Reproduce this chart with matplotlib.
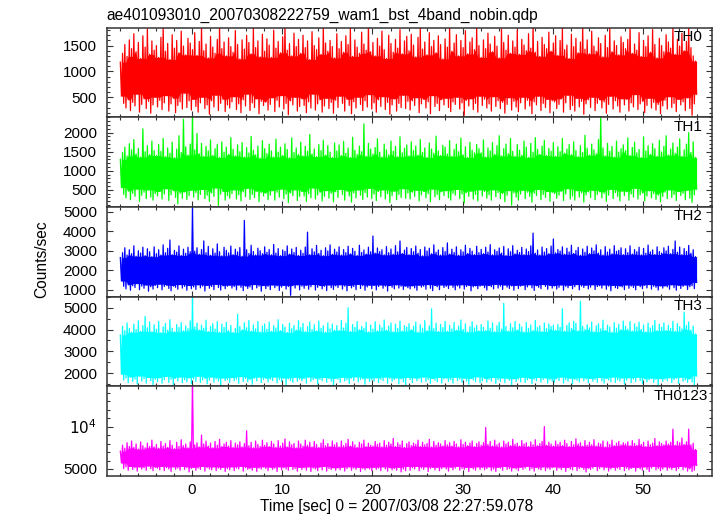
import numpy as np
import pandas as pd
import matplotlib
matplotlib.use("Agg")
import matplotlib.pyplot as plt
from matplotlib.ticker import MultipleLocator, FixedLocator, FixedFormatter

plt.rcParams['font.family'] = ['Liberation Sans', 'DejaVu Sans']

# light curve, 0.25 s bins: highest and lowest rate seen in each bin
t_start = -7.95
bin_width = 0.25

th0_hi = [1180, 1350, 1520, 1290, 1610, 1440, 1730, 1380, 1560, 1250, 1690, 1470, 1820, 1330, 1590, 1410,
          1500, 1270, 1660, 1880, 1390, 1540, 1230, 1710, 1450, 1600, 1360, 1780, 1490, 1320, 1640, 1550,
          1420, 1750, 1310, 1580, 1860, 1400, 1530, 1260, 1680, 1470, 1350, 1620, 1900, 1440, 1570, 1300,
          1650, 1480, 1370, 1790, 1520, 1240, 1610, 1430, 1700, 1560, 1340, 1850, 1460, 1590, 1280, 1720,
          1390, 1630, 1510, 1270, 1800, 1450, 1580, 1360, 1670, 1890, 1410, 1540, 1300, 1740, 1480, 1620,
          1350, 1700, 1460, 1590, 1230, 1770, 1500, 1420, 1650, 1330, 1870, 1550, 1390, 1600, 1480, 1260,
          1730, 1440, 1580, 1370, 1690, 1520, 1840, 1290, 1610, 1470, 1350, 1760, 1530, 1410, 1900, 1380,
          1560, 1300, 1640, 1490, 1780, 1420, 1250, 1700, 1540, 1370, 1620, 1450, 1810, 1340, 1590, 1680,
          1400, 1720, 1510, 1280, 1660, 1850, 1430, 1570, 1320, 1750, 1480, 1600, 1360, 1690, 1520, 1240,
          1630, 1470, 1880, 1390, 1550, 1710, 1300, 1600, 1460, 1790, 1340, 1570, 1650, 1420, 1860, 1500,
          1270, 1610, 1440, 1740, 1530, 1380, 1680, 1490, 1260, 1820, 1560, 1410, 1700, 1350, 1590, 1470,
          1800, 1330, 1620, 1510, 1400, 1730, 1450, 1890, 1370, 1580, 1290, 1660, 1520, 1440, 1760, 1390,
          1550, 1690, 1310, 1600, 1840, 1420, 1510, 1250, 1720, 1480, 1640, 1360, 1570, 1900, 1430, 1610,
          1340, 1780, 1490, 1390, 1650, 1540, 1280, 1700, 1460, 1830, 1380, 1590, 1500, 1320, 1670, 1560,
          1440, 1620, 1870, 1350, 1530, 1410, 1750, 1290, 1600, 1480, 1690, 1370, 1810, 1520, 1260, 1640,
          1500, 1380, 1710, 1570, 1450, 1850, 1330, 1620, 1490, 1740, 1400, 1580, 1880, 1460, 1300, 1200]
th0_lo = [520, 380, 290, 450, 240, 400, 330, 560, 210, 360, 470, 280, 420, 190, 350, 500,
          310, 440, 260, 390, 530, 230, 370, 480, 200, 340, 410, 270, 580, 300, 430, 250,
          460, 320, 210, 390, 500, 280, 350, 170, 430, 310, 540, 240, 380, 460, 220, 350,
          290, 410, 510, 260, 370, 200, 450, 330, 560, 240, 390, 300, 470, 180, 420, 340,
          400, 250, 360, 490, 220, 440, 310, 530, 270, 380, 160, 430, 350, 500, 230, 320,
          470, 340, 200, 410, 290, 560, 250, 370, 450, 210, 330, 480, 280, 400, 190, 440,
          300, 520, 380, 230, 460, 340, 180, 410, 290, 500, 360, 240, 430, 310, 550, 270,
          390, 210, 450, 320, 510, 260, 400, 170, 350, 470, 230, 380, 300, 540, 280, 420,
          250, 430, 340, 490, 200, 370, 460, 290, 410, 180, 530, 320, 380, 240, 450, 350,
          480, 300, 220, 410, 360, 500, 270, 390, 150, 440, 330, 470, 260, 380, 210, 520,
          340, 460, 290, 370, 230, 510, 320, 430, 280, 400, 190, 360, 490, 250, 420, 310,
          220, 390, 500, 270, 440, 330, 180, 410, 350, 520, 240, 380, 300, 460, 200, 430,
          410, 280, 360, 470, 210, 390, 540, 260, 340, 230, 480, 310, 420, 170, 370, 450,
          300, 500, 240, 380, 450, 290, 410, 190, 360, 520, 270, 430, 330, 210, 470, 350,
          460, 230, 390, 310, 550, 260, 370, 420, 200, 340, 480, 290, 400, 250, 360, 180,
          330, 440, 270, 510, 300, 380, 220, 460, 350, 410, 240, 490, 280, 150, 370, 560]

th1_hi = [1300, 1480, 1620, 1390, 1710, 1550, 1820, 1440, 1590, 1360, 2100, 1500, 1660, 1420, 1780, 1530,
          1400, 1690, 1510, 1850, 1370, 1600, 1460, 1750, 1340, 1570, 1920, 1480, 2350, 1630, 1410, 1700,
          2450, 1550, 1980, 1450, 1720, 1380, 1640, 1520, 1810, 1400, 1580, 1690, 1350, 1760, 1490, 1620,
          1430, 1870, 1560, 1390, 1680, 1500, 1740, 1360, 1610, 1470, 1900, 1540, 1420, 1650, 1330, 1790,
          1580, 1450, 1700, 1520, 1360, 1830, 1490, 1620, 1400, 1710, 1560, 1340, 1860, 1480, 1600, 1430,
          1750, 1390, 1640, 1510, 1950, 1440, 1570, 1370, 1690, 1530, 1800, 1410, 1660, 1490, 1350, 1730,
          1520, 1680, 1400, 1770, 1460, 1600, 1350, 1880, 1540, 1430, 1650, 1500, 2230, 1380, 1720, 1570,
          1440, 1610, 1840, 1490, 1360, 1700, 1550, 1420, 1780, 1510, 1640, 1370, 1890, 1470, 1590, 1680,
          1390, 1760, 1530, 1650, 1410, 1820, 1480, 1600, 1350, 1730, 1570, 1460, 1910, 1520, 1400, 1670,
          1620, 1440, 1790, 1380, 1560, 1700, 1500, 1860, 1420, 1630, 1350, 1750, 1540, 1470, 1690, 1580,
          1470, 1810, 1360, 1600, 1520, 1740, 1430, 1660, 1920, 1390, 1580, 1700, 1450, 1850, 1510, 1380,
          1690, 1540, 1410, 1780, 1620, 1350, 1720, 1490, 1870, 1560, 1430, 1650, 1800, 1400, 1590, 1510,
          1740, 1380, 1630, 1500, 1850, 1460, 1570, 1690, 1420, 1760, 1530, 1370, 1660, 1480, 1930, 1590,
          1410, 1700, 1550, 1450, 1820, 2450, 1600, 1390, 1720, 1510, 1640, 1360, 1780, 1490, 1580, 1680,
          1530, 1860, 1400, 1610, 1750, 1470, 1560, 1350, 1890, 1520, 1660, 1430, 1710, 1580, 1380, 1800,
          1490, 1640, 1920, 1410, 1570, 1730, 1460, 1620, 1840, 1380, 1550, 1700, 2000, 1480, 1760, 1350]
th1_lo = [560, 380, 290, 470, 240, 410, 330, 520, 200, 360, 440, 270, 500, 310, 230, 400,
          340, 460, 260, 390, 530, 220, 370, 480, 300, 130, 410, 280, 450, 250, 350, 490,
          310, 430, 240, 380, 510, 270, 360, 200, 420, 330, 550, 90, 390, 460, 230, 350,
          280, 400, 500, 260, 370, 210, 450, 320, 540, 250, 380, 300, 470, 190, 430, 340,
          410, 240, 360, 480, 230, 440, 310, 520, 270, 390, 170, 420, 350, 500, 220, 330,
          460, 340, 200, 400, 290, 550, 260, 370, 440, 210, 330, 480, 280, 410, 190, 450,
          300, 510, 380, 230, 470, 340, 180, 420, 290, 500, 360, 250, 430, 310, 540, 270,
          390, 220, 460, 320, 500, 260, 400, 170, 350, 470, 240, 380, 300, 530, 280, 420,
          260, 440, 330, 490, 210, 370, 460, 290, 400, 190, 520, 320, 380, 240, 450, 350,
          480, 290, 230, 410, 360, 510, 270, 390, 160, 430, 330, 470, 260, 380, 210, 500,
          340, 460, 280, 370, 230, 500, 320, 430, 270, 400, 190, 360, 480, 100, 420, 310,
          230, 390, 490, 270, 440, 330, 180, 410, 350, 510, 240, 380, 300, 460, 200, 430,
          400, 280, 360, 470, 220, 390, 530, 260, 340, 230, 480, 310, 420, 180, 370, 450,
          300, 490, 240, 380, 450, 290, 410, 200, 360, 510, 270, 430, 330, 210, 470, 350,
          450, 230, 390, 310, 540, 260, 370, 420, 210, 340, 480, 290, 400, 250, 360, 190,
          330, 440, 270, 500, 300, 380, 220, 460, 350, 410, 240, 490, 280, 170, 370, 520]

th2_hi = [2650, 2900, 3150, 2780, 3050, 2850, 3250, 2720, 3000, 2880, 3180, 2750, 3100, 2950, 2700, 3200,
          2850, 3050, 2780, 3300, 2900, 3120, 3550, 2800, 3020, 2930, 3250, 2760, 3080, 2870, 3180, 2950,
          5250, 2980, 3150, 2820, 3060, 3500, 2900, 3220, 2770, 3100, 2880, 3350, 2950, 2740, 3180, 3020,
          2890, 3240, 2800, 3080, 2940, 3160, 2720, 4550, 3050, 2860, 3280, 2960, 2780, 3130, 3000, 2850,
          3200, 2920, 3060, 2790, 3320, 2880, 3110, 2750, 3040, 2970, 3250, 2830, 3090, 2910, 3170, 2760,
          3030, 2870, 3190, 3950, 2800, 3100, 2940, 3270, 2860, 3020, 2750, 3150, 2990, 3300, 2820, 3080,
          2930, 3200, 2780, 3060, 2900, 3230, 2840, 3120, 2970, 2760, 3280, 2910, 3040, 2830, 3180, 2950,
          3750, 2880, 3140, 2960, 3050, 2790, 3210, 2900, 3090, 2820, 3260, 2940, 3500, 2860, 3030, 3170,
          2800, 3110, 2950, 3240, 2870, 3060, 2740, 3190, 2990, 3130, 2850, 3300, 2920, 3040, 2780, 3160,
          2960, 3400, 2830, 3080, 2910, 3200, 2770, 3050, 2940, 3280, 2860, 3120, 2980, 2800, 3230, 2900,
          3070, 2850, 3180, 2930, 3310, 2790, 3050, 2970, 3140, 2880, 3220, 2760, 3100, 2950, 3260, 2840,
          3020, 2910, 3170, 2800, 3090, 2960, 3250, 3900, 2870, 3040, 2780, 3190, 2930, 3110, 2850, 3240,
          3600, 2890, 3060, 2980, 3200, 2820, 3130, 2940, 3280, 2860, 3010, 3170, 2770, 3090, 2920, 3230,
          2850, 3140, 2990, 3300, 2880, 3050, 2780, 3210, 2930, 3080, 2840, 3260, 2970, 3020, 3150, 2800,
          3100, 2900, 3250, 2830, 3060, 2950, 3180, 2790, 3120, 2870, 3290, 2940, 3040, 2810, 3200, 2960,
          2880, 3150, 2990, 3230, 2850, 3070, 3500, 2920, 3190, 2800, 3110, 2960, 3270, 2870, 3050, 2700]
th2_lo = [1450, 1180, 1050, 1260, 980, 1210, 1120, 1320, 1010, 1190, 1080, 1250, 930, 1160, 1040, 1230,
          1110, 1290, 1000, 1170, 1240, 1070, 950, 1200, 1130, 1030, 1270, 1090, 1180, 980, 1220, 1060,
          1150, 1020, 1260, 1100, 1190, 940, 1230, 1080, 1170, 1010, 1280, 1120, 990, 1210, 1060, 1180,
          1240, 1090, 1170, 1000, 1250, 1130, 960, 1200, 1070, 1150, 1020, 1270, 1100, 1190, 930, 1220,
          1060, 1180, 1010, 1250, 1110, 1200, 970, 1140, 1230, 1040, 1170, 720, 1210, 1090, 1260, 1000,
          1190, 1080, 1240, 1030, 1160, 1270, 990, 1130, 1220, 1050, 1180, 960, 1250, 1110, 1020, 1200,
          1120, 1260, 1040, 1190, 950, 1230, 1100, 1170, 1010, 1280, 1070, 1210, 980, 1150, 1240, 1060,
          1230, 1000, 1170, 1250, 1080, 1190, 940, 1220, 1130, 1050, 1260, 1090, 1180, 1020, 1200, 1110,
          1050, 1210, 1100, 980, 1240, 1140, 1190, 1030, 1270, 1080, 960, 1220, 1160, 1010, 1250, 1120,
          1180, 1070, 1250, 1130, 1000, 1200, 1090, 1260, 1040, 1170, 1230, 950, 1150, 1210, 1060, 1190,
          1240, 1110, 990, 1220, 1160, 1050, 1280, 1090, 1190, 1020, 1250, 1140, 1070, 1200, 980, 1230,
          1070, 1190, 1240, 1010, 1150, 1260, 1100, 970, 1210, 1130, 1060, 1270, 1180, 1030, 1220, 1090,
          1200, 1040, 1130, 1250, 980, 1180, 1110, 1230, 1060, 1160, 1270, 1000, 1190, 1120, 1240, 1050,
          1140, 1260, 1020, 1170, 1210, 1090, 1250, 1030, 1190, 950, 1230, 1110, 1070, 1200, 1150, 1010,
          1250, 1080, 1190, 1120, 1000, 1240, 1160, 1060, 1220, 1100, 1270, 1040, 1180, 1130, 990, 1210,
          1090, 1200, 1150, 1030, 1260, 1110, 980, 1230, 1070, 1180, 1250, 1020, 1160, 1210, 1060, 1380]

th3_hi = [3750, 4150, 3950, 4300, 4050, 3880, 4250, 4000, 4400, 3920, 4180, 4600, 4080, 4350, 3900, 4220,
          4020, 4380, 3860, 4130, 4280, 3970, 4450, 4060, 3900, 4230, 4100, 4320, 3940, 4170, 4040, 4400,
          5550, 4120, 4300, 3980, 4200, 4060, 4430, 3910, 4150, 4270, 4020, 4360, 3880, 4240, 4090, 4330,
          3960, 4190, 3870, 4050, 4700, 4140, 3990, 4310, 4080, 4420, 3930, 4210, 4030, 4370, 3890, 4160,
          4260, 4010, 4340, 3920, 4180, 4070, 4450, 3950, 4230, 4110, 3870, 4300, 4040, 4190, 3980, 4410,
          4090, 4280, 3900, 4140, 4350, 4000, 4220, 3940, 4390, 4060, 4170, 3880, 4310, 4030, 4250, 3970,
          4180, 3960, 4420, 4070, 4290, 5000, 3910, 4230, 4100, 4370, 3990, 4150, 4060, 4330, 3890, 4200,
          4020, 4360, 3940, 4210, 4080, 4440, 3970, 4160, 4300, 3900, 4250, 4050, 4390, 3930, 4180, 4110,
          4270, 3990, 4150, 4340, 3880, 4220, 4060, 4410, 3950, 4170, 4950, 4040, 4290, 3910, 4240, 4090,
          4380, 3920, 4200, 4030, 4320, 3970, 4160, 4440, 4010, 4260, 3890, 4130, 4350, 4070, 4190, 3940,
          4230, 4100, 3960, 4400, 4050, 4310, 3900, 4180, 4340, 4020, 5200, 4140, 3930, 4270, 4080, 4370,
          3980, 4250, 4120, 3890, 4330, 4060, 4210, 3950, 4420, 4090, 4170, 3910, 4300, 4040, 4260, 4140,
          4200, 3970, 4230, 4100, 4950, 3920, 4190, 4310, 4050, 4380, 4280, 3940, 5300, 4150, 4010, 4220,
          4080, 4340, 3900, 4170, 4270, 4030, 4430, 3960, 4200, 4120, 3880, 4320, 4060, 4240, 3990, 4390,
          4150, 4020, 4370, 3930, 4260, 4110, 4340, 4000, 4210, 3890, 4300, 4070, 4180, 4420, 3950, 4240,
          4100, 4310, 3960, 4200, 4050, 4380, 3920, 4270, 4130, 4030, 4800, 4190, 4350, 3980, 4160, 3800]
th3_lo = [1950, 1680, 1780, 1560, 1830, 1620, 1730, 1500, 1870, 1640, 1750, 1540, 1800, 1660, 1470, 1720,
          1610, 1790, 1540, 1700, 1850, 1580, 1720, 1480, 1760, 1640, 1820, 1560, 1700, 1600, 1790, 1520,
          1740, 1620, 1860, 1570, 1690, 1770, 1510, 1680, 1820, 1590, 1730, 1640, 1440, 1780, 1660, 1710,
          1580, 1800, 1650, 1720, 1530, 1840, 1620, 1750, 1600, 1700, 1490, 1770, 1640, 1820, 1570, 1710,
          1770, 1600, 1720, 1660, 1820, 1550, 1710, 1620, 1780, 1470, 1740, 1670, 1580, 1810, 1630, 1720,
          1660, 1750, 1540, 1820, 1620, 1700, 1770, 1500, 1720, 1650, 1800, 1580, 1740, 1630, 1420, 1760,
          1720, 1580, 1810, 1640, 1700, 1520, 1770, 1660, 1830, 1600, 1710, 1740, 1490, 1780, 1620, 1700,
          1640, 1790, 1570, 1720, 1660, 1820, 1540, 1760, 1630, 1700, 1780, 1510, 1730, 1600, 1460, 1800,
          1700, 1560, 1780, 1650, 1740, 1590, 1820, 1620, 1710, 1530, 1760, 1680, 1600, 1800, 1550, 1730,
          1780, 1620, 1700, 1540, 1810, 1660, 1730, 1580, 1770, 1640, 1490, 1750, 1690, 1610, 1830, 1570,
          1650, 1760, 1590, 1720, 1640, 1800, 1530, 1700, 1620, 1780, 1560, 1740, 1670, 1480, 1750, 1610,
          1730, 1600, 1810, 1570, 1690, 1760, 1520, 1720, 1650, 1800, 1590, 1710, 1780, 1540, 1690, 1640,
          1590, 1740, 1660, 1820, 1550, 1700, 1630, 1770, 1510, 1720, 1680, 1600, 1790, 1650, 1730, 1560,
          1760, 1630, 1710, 1580, 1800, 1650, 1540, 1750, 1690, 1610, 1820, 1570, 1700, 1640, 1780, 1500,
          1680, 1790, 1560, 1730, 1620, 1810, 1660, 1520, 1740, 1600, 1700, 1770, 1580, 1720, 1450, 1750,
          1620, 1720, 1650, 1790, 1570, 1700, 1760, 1530, 1810, 1640, 1690, 1580, 1740, 1600, 1460, 1880]

th0123_hi = [7100, 7800, 7450, 8100, 7650, 8300, 7550, 7950, 7350, 8200, 7750, 7500, 8050, 7650, 8400, 7600,
             7900, 7450, 8250, 7700, 8000, 7550, 8350, 7800, 7400, 8150, 7650, 8450, 7750, 7950, 7500, 8200,
             15500, 7850, 8100, 7600, 9000, 7950, 8300, 7700, 8050, 7500, 8250, 7800, 8500, 7650, 7950, 8150,
             7700, 8350, 7550, 8050, 7850, 8200, 7600, 8000, 9500, 7750, 8150, 7500, 8300, 7900, 7650, 8400,
             7800, 8100, 7650, 8250, 7950, 7550, 8350, 7700, 8050, 8550, 7600, 8200, 7850, 8000, 7500, 8300,
             7950, 7700, 8400, 7800, 8150, 7600, 8250, 7900, 7550, 8050, 8450, 7750, 8000, 7650, 8300, 7850,
             8100, 7600, 8300, 7750, 8000, 8500, 7700, 8200, 7850, 7550, 8150, 7950, 8400, 7650, 8050, 7800,
             7700, 8250, 7900, 8050, 7600, 8350, 7800, 8150, 7950, 8600, 7650, 8100, 7850, 8300, 7550, 8000,
             8200, 7750, 8050, 7900, 8400, 7650, 8150, 7850, 8000, 8500, 7600, 8250, 7800, 8100, 7950, 7700,
             8350, 7850, 8100, 7700, 8250, 7950, 7600, 8450, 7900, 8150, 7750, 8050, 8300, 7650, 8000, 8200,
             7800, 8100, 9900, 7900, 8250, 7700, 8400, 7850, 8050, 7600, 8300, 7950, 8150, 7750, 8500, 7900,
             8050, 7700, 8350, 7950, 8100, 7650, 8200, 7850, 8450, 7750, 8000, 8250, 10000, 7800, 8150, 7950,
             7700, 8300, 7900, 8150, 7750, 8400, 8000, 7650, 8250, 7850, 8550, 7950, 8100, 7700, 8350, 7800,
             8150, 7850, 8450, 7700, 8050, 7950, 8300, 7600, 8200, 7900, 8400, 7750, 8050, 8250, 7850, 8100,
             7950, 8200, 7750, 8350, 8000, 7800, 8500, 7900, 8150, 7650, 8300, 7850, 8050, 8600, 7750, 8200,
             8000, 7850, 8300, 7950, 8150, 9700, 7800, 8250, 8100, 8650, 7900, 8200, 9700, 7850, 8050, 7300]
th0123_lo = [5700, 5050, 5250, 4850, 5300, 4950, 5150, 4750, 5250, 5000, 5150, 4850, 5350, 5050, 4800, 5200,
             5100, 4900, 5300, 4800, 5150, 5000, 4700, 5250, 4950, 5100, 4850, 5300, 4950, 5150, 4650, 5050,
             5200, 4850, 5100, 4950, 5300, 4750, 5150, 5000, 4900, 5250, 4800, 5100, 4950, 5200, 4700, 5050,
             4900, 5250, 4800, 5100, 5000, 5300, 4750, 5150, 4950, 5050, 4850, 5200, 4700, 5100, 5000, 5250,
             5050, 4800, 5200, 4950, 5100, 4700, 5250, 4900, 5150, 5000, 4850, 5300, 4950, 5050, 4750, 5200,
             4950, 5150, 4850, 5250, 4700, 5100, 5000, 4800, 5200, 4900, 5300, 4750, 5050, 4950, 5150, 4850,
             5100, 4900, 5200, 4750, 5050, 5250, 4850, 5100, 4950, 5200, 4700, 5050, 4900, 5150, 5000, 4800,
             5200, 4950, 5100, 4800, 5250, 5000, 4750, 5150, 4900, 5050, 4850, 5200, 4650, 5000, 4800, 5300,
             4850, 5150, 5000, 5300, 4800, 5100, 4950, 5250, 4700, 5050, 5200, 4900, 5150, 4800, 5050, 5250,
             5000, 4750, 5200, 4900, 5100, 5300, 4850, 5050, 4950, 5200, 4700, 5150, 5000, 4850, 5250, 4950,
             5150, 4900, 5050, 5250, 4800, 5000, 4700, 5200, 5100, 4850, 5300, 4950, 5050, 4750, 5150, 5000,
             4800, 5200, 4950, 5100, 5300, 4850, 5050, 4750, 5200, 5000, 4900, 5250, 4800, 5100, 4950, 5150,
             5250, 4850, 5100, 4950, 5200, 4700, 5150, 5000, 4900, 5300, 4800, 5050, 5200, 4950, 4650, 5100,
             4950, 5100, 5300, 4800, 5050, 5250, 4900, 5150, 4750, 5000, 5200, 4850, 5100, 4950, 5300, 4800,
             5100, 4900, 5050, 5200, 4750, 5150, 5000, 4850, 5250, 4950, 4700, 5100, 5300, 4900, 5050, 4800,
             5000, 5250, 4850, 5100, 4950, 5200, 4800, 5050, 5300, 4900, 5150, 4750, 5000, 4700, 4850, 5450]

band_names = ['TH0', 'TH1', 'TH2', 'TH3', 'TH0123']
band_colors = ['#ff0000', '#00ff00', '#0000ff', '#00ffff', '#ff00ff']
band_hi = [th0_hi, th1_hi, th2_hi, th3_hi, th0123_hi]
band_lo = [th0_lo, th1_lo, th2_lo, th3_lo, th0123_lo]
band_ylim = [(110, 1846), (53, 2403), (660, 5240), (1406, 5516), (4208, 14775)]
band_major = [500, 500, 1000, 1000, 5000]
band_minor = [100, 100, 500, 500, 1000]
label_x = [0.985, 0.985, 0.985, 0.985, 0.994]

dpi = 100
fig, axes = plt.subplots(5, 1, sharex=True, figsize=(717 / dpi, 516 / dpi), dpi=dpi)
fig.subplots_adjust(left=0.1488, right=0.9926, top=0.9463, bottom=0.0781, hspace=0)

for i, ax in enumerate(axes):
    hi = pd.Series(band_hi[i], dtype=float)
    lo = pd.Series(band_lo[i], dtype=float)
    t_hi = t_start + bin_width * np.arange(len(hi))
    t_lo = t_hi + bin_width / 2

    # the dense part of the band, where every neighbouring swing passes
    core_hi = hi.rolling(5, center=True, min_periods=1).min()
    core_lo = lo.rolling(5, center=True, min_periods=1).max()
    ax.fill_between(t_lo, core_lo, core_hi, color=band_colors[i], lw=0)

    x = np.column_stack([t_hi, t_lo]).ravel()
    y = np.column_stack([hi, lo]).ravel()
    ax.plot(x, y, color=band_colors[i], lw=0.9)

    ax.set_ylim(*band_ylim[i])
    ax.yaxis.set_major_locator(MultipleLocator(band_major[i]))
    ax.yaxis.set_minor_locator(MultipleLocator(band_minor[i]))
    ax.xaxis.set_major_locator(MultipleLocator(10))
    ax.xaxis.set_minor_locator(MultipleLocator(2))
    ax.tick_params(which='both', direction='in', top=True, right=True, width=0.8, colors='#333333',
                   labelcolor='black', labelsize=11)
    ax.tick_params(which='major', length=4.5)
    ax.tick_params(which='minor', length=2.3)
    ax.tick_params(axis='y', pad=7)
    ax.tick_params(axis='x', pad=5)
    for s in ax.spines.values():
        s.set_linewidth(1.1)
        s.set_color('#333333')
    ax.text(label_x[i], 0.894, band_names[i], transform=ax.transAxes, ha='right', va='center',
            fontsize=11)

axes[-1].yaxis.set_major_locator(FixedLocator([5000, 10000]))
axes[-1].yaxis.set_major_formatter(FixedFormatter(['5000', r'$10^4$']))
axes[-1].set_xlim(-9.46, 57.6)

fig.text(106.7 / 717, 1 - 15 / 516, 'ae401093010_20070308222759_wam1_bst_4band_nobin.qdp',
         ha='left', va='center', fontsize=11.2)
fig.text(397 / 717, 1 - 506.7 / 516, 'Time [sec] 0 = 2007/03/08 22:27:59.078',
         ha='center', va='center', fontsize=11.2)
fig.text(41.7 / 717, 1 - 259.5 / 516, 'Counts/sec', rotation=90, ha='center', va='center',
         fontsize=11.2)

fig.savefig('out.png', dpi=dpi)
